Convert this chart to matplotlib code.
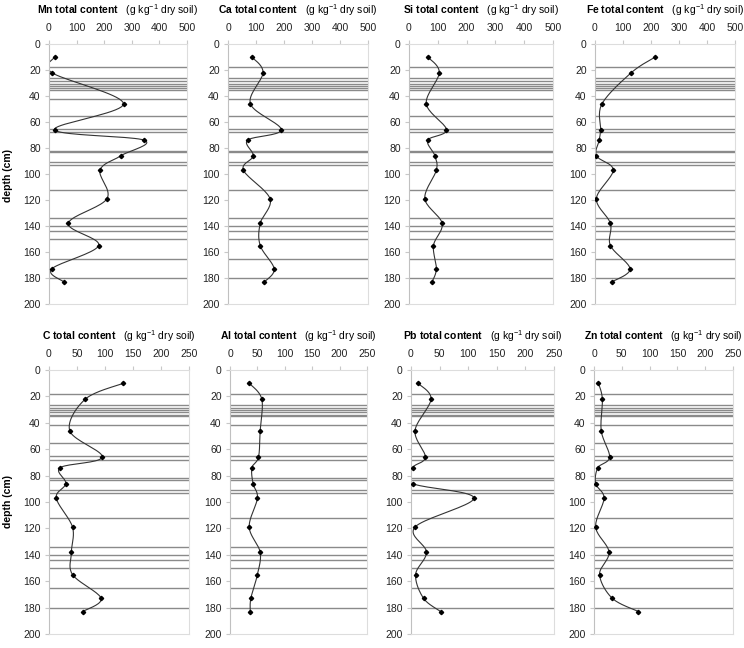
import numpy as np
import matplotlib
matplotlib.use("Agg")
import matplotlib.pyplot as plt

plt.rcParams['font.family'] = ['Liberation Sans', 'DejaVu Sans']
plt.rcParams['mathtext.fontset'] = 'custom'
plt.rcParams['mathtext.rm'] = 'Liberation Sans'
plt.rcParams['mathtext.it'] = 'Liberation Sans'
plt.rcParams['mathtext.bf'] = 'Liberation Sans:bold'

# sampling depths (cm)
depth = [10, 22, 46, 66, 74, 86, 97, 119, 138, 155, 173, 183]

# layer boundaries (cm)
layers = [18, 26.5, 28.5, 30.5, 32, 34, 35, 42, 55, 65, 68, 82, 83,
          91, 93, 112, 134, 140, 144, 150, 165, 180]

mn = [20, 10, 270, 20, 345, 260, 185, 210, 70, 180, 10, 55]
ca = [85, 125, 80, 190, 70, 90, 55, 150, 115, 115, 165, 130]
si = [65, 105, 60, 130, 65, 90, 95, 55, 115, 85, 95, 80]
fe = [215, 130, 25, 20, 15, 5, 65, 5, 55, 55, 125, 60]
c = [133, 65, 37, 95, 20, 30, 13, 42, 40, 42, 93, 60]
al = [35, 58, 55, 52, 40, 42, 50, 35, 55, 50, 38, 37]
pb = [12, 35, 7, 25, 3, 3, 110, 7, 27, 8, 22, 52]
zn = [8, 15, 13, 28, 7, 3, 18, 3, 27, 10, 33, 80]

panels = [("Mn", mn, 500), ("Ca", ca, 500), ("Si", si, 500), ("Fe", fe, 500),
          ("C", c, 250), ("Al", al, 250), ("Pb", pb, 250), ("Zn", zn, 250)]

# axes boxes in pixels: left, right, top, bottom
boxes = [(49, 187, 44, 304), (228, 368, 44, 304), (409, 553, 44, 304), (595, 735, 44, 304),
         (49, 189, 370, 634), (230, 367, 370, 634), (411, 554, 370, 634), (594, 733, 370, 634)]

W, H = 744, 648


def smooth(xs, ys, n=20):
    # Catmull-Rom style curve through the points, like a spreadsheet smoothed line
    pts = np.column_stack([xs, ys]).astype(float)
    p = np.vstack([pts[0], pts, pts[-1]])
    out = []
    for i in range(1, len(p) - 2):
        p0, p1, p2, p3 = p[i - 1], p[i], p[i + 1], p[i + 2]
        t = np.linspace(0, 1, n)[:, None]
        seg = 0.5 * ((2 * p1) + (-p0 + p2) * t + (2 * p0 - 5 * p1 + 4 * p2 - p3) * t ** 2
                     + (-p0 + 3 * p1 - 3 * p2 + p3) * t ** 3)
        out.append(seg)
    out = np.vstack(out)
    return out[:, 0], out[:, 1]


fig = plt.figure(figsize=(W / 100, H / 100), dpi=100)

for (name, vals, xmax), (l, r, t, b) in zip(panels, boxes):
    ax = fig.add_axes([l / W, 1 - b / H, (r - l) / W, (b - t) / H])
    ax.set_xlim(0, xmax)
    ax.set_ylim(200, 0)
    for d in layers:
        ax.axhline(d, color='#8a8a8a', lw=1.0, zorder=1)
    # scale x so the spline looks right in both directions
    sx, sy = smooth(np.array(vals) / xmax * 140, np.array(depth) / 200 * 260)
    ax.plot(sx * xmax / 140, sy * 200 / 260, color='#333333', lw=0.8, zorder=2)
    ax.plot(vals, depth, 'D', color='black', ms=2.2, zorder=3)
    ax.xaxis.tick_top()
    ax.set_xticks(np.linspace(0, xmax, 6))
    ax.set_yticks(range(0, 201, 20))
    ax.tick_params(labelsize=7.5, length=3, color='#c8c8c8', pad=3, labelcolor='#222222')
    ax.tick_params(axis='x', pad=5)
    for s in ax.spines.values():
        s.set_color('#dddddd')
        s.set_linewidth(0.8)
    ax.spines['left'].set_color('#c0c0c0')
    label = r"$\bf{%s\ total\ content}$   (g kg$^{-1}$ dry soil)" % name
    fig.text((l + r) / 2 / W, 1 - (t - 34) / H, label, fontsize=7.5,
             ha='center', va='center')

fig.text(8 / W, 1 - 175 / H, "depth (cm)", rotation=90, fontsize=7.5, fontweight='bold',
         ha='center', va='center')
fig.text(8 / W, 1 - 502 / H, "depth (cm)", rotation=90, fontsize=7.5, fontweight='bold',
         ha='center', va='center')

fig.savefig("out.png", dpi=100)
